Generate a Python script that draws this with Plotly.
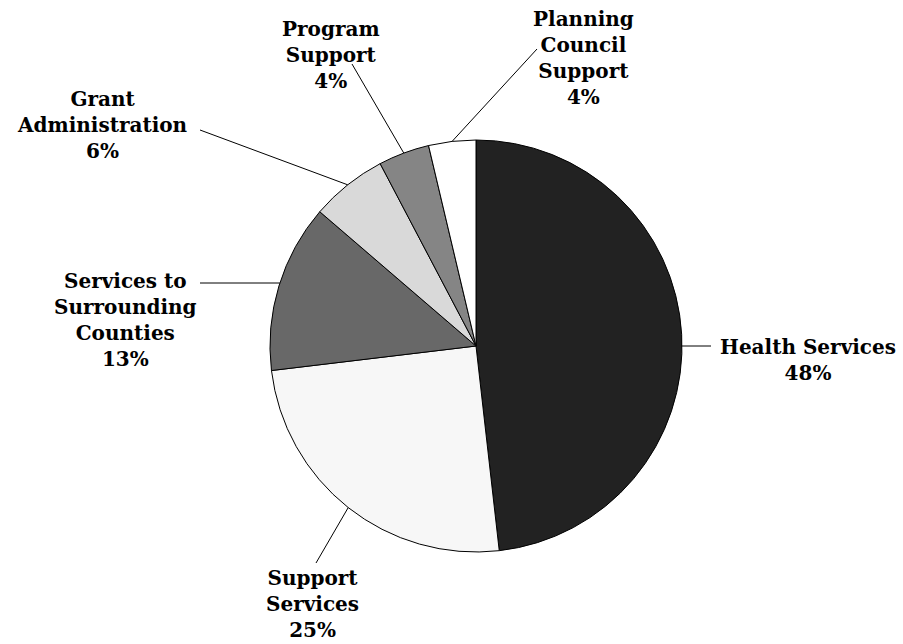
import math
import plotly.graph_objects as go

# ---- data ----
categories = ["Health Services", "Support<br>Services", "Services to<br>Surrounding<br>Counties",
              "Grant<br>Administration", "Program<br>Support", "Planning<br>Council<br>Support"]
values = [48.2, 24.9, 13.2, 6.0, 4.0, 3.7]
colors = ["#222222", "#f7f7f7", "#686868", "#d9d9d9", "#858585", "#ffffff"]

# ---- layout geometry (pixels) ----
W, H = 903, 644
CX, CY, R = 476, 346, 206
# leader line end points and label block centres (pixels)
line_ends = [(711, 346), (316, 563), (200, 283), (200, 130), (352, 64), (537, 49)]
horizontal = [True, False, True, False, False, False]
label_pos = [(808, 360), (312, 604), (125, 320), (102, 125), (331, 55), (583, 58)]

def px(x):
    return x / W

def py(y):
    return 1 - y / H

fig = go.Figure(go.Pie(
    labels=categories, values=values, sort=False, direction="clockwise", rotation=0,
    marker=dict(colors=colors, line=dict(color="#000000", width=1)),
    textinfo="none", hoverinfo="label+percent", showlegend=False,
    domain=dict(x=[px(CX - R), px(CX + R)], y=[py(CY + R), py(CY - R)]),
))

total = sum(values)
cum = 0.0
shapes, annotations = [], []
FONT = dict(family="DejaVu Serif", size=20, color="#000000")
for i, v in enumerate(values):
    mid = (cum + v / 2) / total * 2 * math.pi
    cum += v
    ex, ey = line_ends[i]
    if horizontal[i]:
        sy = ey
        d = math.sqrt(max(R * R - (ey - CY) ** 2, 0))
        sx = CX + d if math.sin(mid) > 0 else CX - d
    else:
        sx = CX + R * math.sin(mid)
        sy = CY - R * math.cos(mid)
    shapes.append(dict(type="line", xref="paper", yref="paper",
                       x0=px(sx), y0=py(sy), x1=px(ex), y1=py(ey),
                       line=dict(color="#000000", width=1)))
    pct = f"{round(v / total * 100):d}%"
    lx, ly = label_pos[i]
    annotations.append(dict(xref="paper", yref="paper", x=px(lx), y=py(ly),
                            xanchor="center", yanchor="middle", showarrow=False,
                            text=f"<b>{categories[i]}<br>{pct}</b>", align="center",
                            font=FONT))

fig.update_layout(width=W, height=H, margin=dict(l=0, r=0, t=0, b=0),
                  paper_bgcolor="#ffffff", plot_bgcolor="#ffffff",
                  shapes=shapes, annotations=annotations)

fig.write_html("out.html")
